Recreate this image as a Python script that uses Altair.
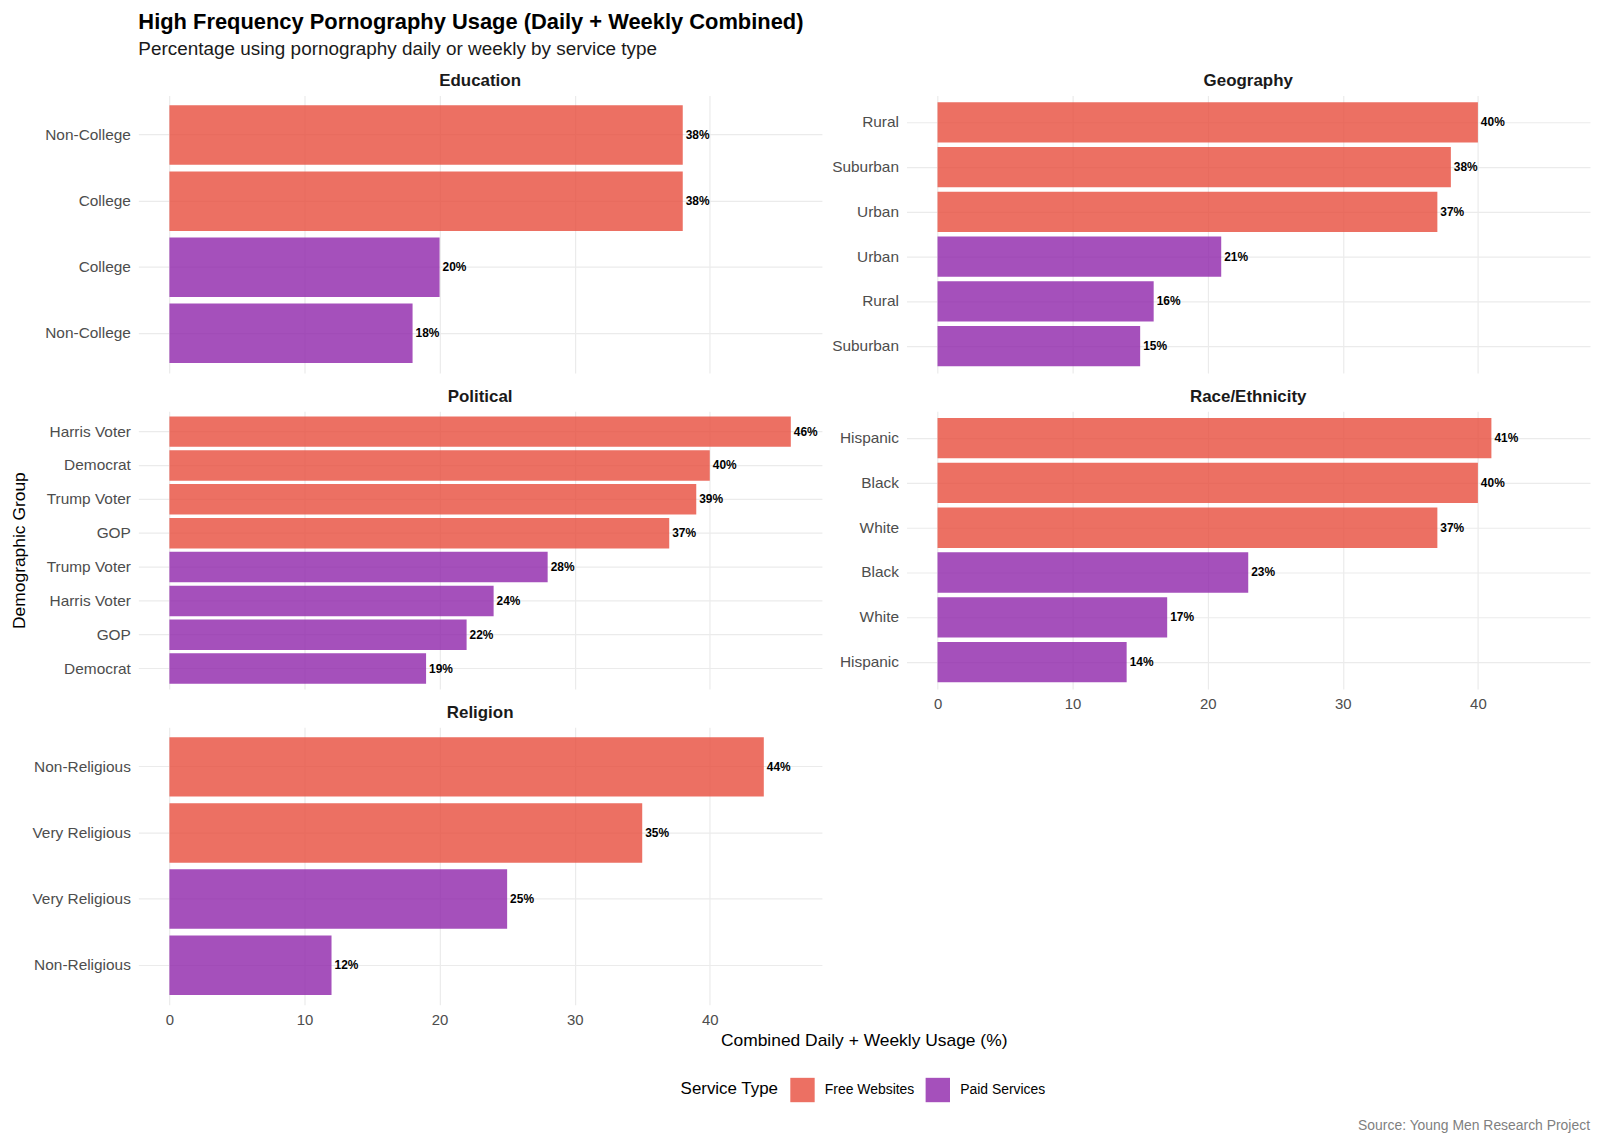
import altair as alt
import pandas as pd

# ---------------- data ----------------
SERVICES = ["Free Websites", "Paid Services"]
COLORS = ["#E74C3C", "#8E24AA"]

edu_groups = ["Non-College", "College", "College", "Non-College"]
edu_services = ["Free Websites", "Free Websites", "Paid Services", "Paid Services"]
edu_values = [38, 38, 20, 18]

geo_groups = ["Rural", "Suburban", "Urban", "Urban", "Rural", "Suburban"]
geo_services = ["Free Websites"] * 3 + ["Paid Services"] * 3
geo_values = [40, 38, 37, 21, 16, 15]

pol_groups = ["Harris Voter", "Democrat", "Trump Voter", "GOP",
              "Trump Voter", "Harris Voter", "GOP", "Democrat"]
pol_services = ["Free Websites"] * 4 + ["Paid Services"] * 4
pol_values = [46, 40, 39, 37, 28, 24, 22, 19]

race_groups = ["Hispanic", "Black", "White", "Black", "White", "Hispanic"]
race_services = ["Free Websites"] * 3 + ["Paid Services"] * 3
race_values = [41, 40, 37, 23, 17, 14]

rel_groups = ["Non-Religious", "Very Religious", "Very Religious", "Non-Religious"]
rel_services = ["Free Websites", "Free Websites", "Paid Services", "Paid Services"]
rel_values = [44, 35, 25, 12]

TITLE = "High Frequency Pornography Usage (Daily + Weekly Combined)"
SUBTITLE = "Percentage using pornography daily or weekly by service type"
X_TITLE = "Combined Daily + Weekly Usage (%)"
Y_TITLE = "Demographic Group"
CAPTION = "Source: Young Men Research Project"
X_TICKS = [0, 10, 20, 30, 40]

panels = {
    "Education": (edu_groups, edu_services, edu_values),
    "Geography": (geo_groups, geo_services, geo_values),
    "Political": (pol_groups, pol_services, pol_values),
    "Race/Ethnicity": (race_groups, race_services, race_values),
    "Religion": (rel_groups, rel_services, rel_values),
}

rows = []
for cat, (gs, ss, vs) in panels.items():
    for i, (g, s, v) in enumerate(zip(gs, ss, vs)):
        rows.append({"category": cat, "group": g, "service": s, "value": v,
                     "key": f"{s}|{g}", "rank": i})
df = pd.DataFrame(rows)

FONT = "Liberation Sans"
W, H = 687, 279


def panel(cat, left_col, show_x_labels, y_title=None, x_title=None):
    base = alt.Chart(df).transform_filter(alt.datum.category == cat).transform_calculate(
        label="datum.value + '%'"
    )
    y_axis = alt.Axis(
        labelExpr="split(datum.value, '|')[1]",
        bandPosition=0.5,
        ticks=False, tickSize=0, domain=False, grid=True,
        gridColor="#EBEBEB", gridWidth=1.2,
        labelFontSize=15.5, labelColor="#4D4D4D", labelPadding=8,
        labelFont=FONT,
        minExtent=105 if left_col else 80, maxExtent=105 if left_col else 80,
        title=y_title if y_title else None,
        titleFontSize=17.5, titleFontWeight="normal", titleColor="#000000",
        titleFont=FONT, titlePadding=5,
    )
    x_kwargs = dict(
        values=X_TICKS, ticks=False, tickSize=0, domain=False, grid=True,
        gridColor="#EBEBEB", gridWidth=1.2, labels=show_x_labels,
        labelFontSize=15, labelColor="#4D4D4D", labelPadding=8, labelFont=FONT,
        title=x_title if x_title else None,
    )
    if x_title:
        x_kwargs.update(titleFontSize=17.5, titleFontWeight="normal",
                        titleColor="#000000", titleFont=FONT,
                        titleX=729, titleY=27, titleAnchor="middle")
    x_axis = alt.Axis(**x_kwargs)
    y_enc = alt.Y("key:N",
                  sort=alt.EncodingSortField(field="rank", op="min", order="ascending"),
                  scale=alt.Scale(paddingInner=0.1, paddingOuter=0.15),
                  axis=y_axis)
    x_enc = alt.X("value:Q",
                  scale=alt.Scale(domain=[-2.3, 48.3], nice=False, zero=False),
                  axis=x_axis)
    bars = base.mark_bar(opacity=0.8).encode(
        x=x_enc,
        x2=alt.datum(0),
        y=y_enc,
        color=alt.Color(
            "service:N",
            scale=alt.Scale(domain=SERVICES, range=COLORS),
            legend=alt.Legend(
                title="Service Type", orient="none", direction="horizontal",
                legendX=545, legendY=987, titleOrient="left",
                titleFontSize=17, titleFontWeight="normal", titleColor="#000000",
                titleFont=FONT, titlePadding=11, titleBaseline="middle",
                labelFontSize=14, labelColor="#000000", labelFont=FONT,
                labelOffset=10, columnPadding=11,
                symbolType="square", symbolSize=600, symbolOpacity=0.8,
                symbolStrokeWidth=0,
            ),
        ),
    )
    text = base.mark_text(align="left", baseline="middle", dx=3,
                          fontWeight="bold", fontSize=12, color="#000000",
                          font=FONT).encode(
        x=alt.X("value:Q"),
        y=alt.Y("key:N",
                sort=alt.EncodingSortField(field="rank", op="min", order="ascending")),
        text="label:N",
    )
    return alt.layer(bars, text).properties(
        width=W, height=H,
        title=alt.TitleParams(cat, fontSize=17, fontWeight="bold", anchor="middle",
                              frame="group", offset=5, color="#1A1A1A", font=FONT),
    )


edu = panel("Education", True, False)
geo = panel("Geography", False, False)
pol = panel("Political", True, False, y_title=Y_TITLE)
race = panel("Race/Ethnicity", False, True)
rel = panel("Religion", True, True, x_title=X_TITLE)

cap = alt.Chart(pd.DataFrame({"caption": [CAPTION]})).mark_text(
    align="right", baseline="middle", fontSize=14, color="#7F7F7F", font=FONT
).encode(
    x=alt.value(W), y=alt.value(401), text="caption:N"
).properties(width=W, height=H)

chart = alt.concat(
    edu, geo, pol, race, rel, cap,
    columns=2,
    spacing={"row": 38.5, "column": 85},
    bounds="flush",
).resolve_scale(
    y="independent", x="independent", color="shared"
).properties(
    title=alt.TitleParams(
        TITLE, subtitle=SUBTITLE, anchor="start", frame="group",
        fontSize=22, fontWeight="bold", color="#000000", font=FONT,
        subtitleFontSize=19, subtitleColor="#1A1A1A", subtitleFont=FONT,
        subtitlePadding=6, offset=13,
    ),
    padding={"left": 3, "top": 0, "right": 2, "bottom": 2},
).configure(font=FONT).configure_view(strokeWidth=0, stroke="transparent")

chart.save("out.html", embed_options={"renderer": "svg", "actions": False})
